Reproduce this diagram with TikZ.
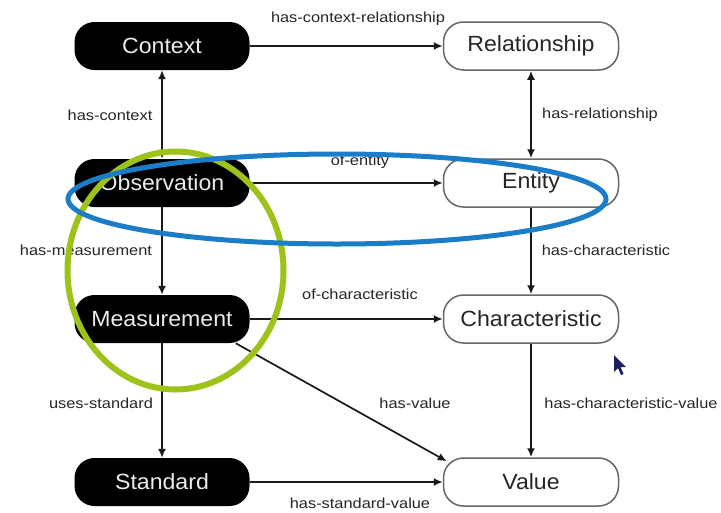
\documentclass[tikz,border=0pt]{standalone}
\usepackage{fontspec}
\setmainfont{Liberation Sans}
\newfontfamily\boxfont{Liberation Sans}[FakeStretch=1.05]
\newfontfamily\lblfont{Liberation Sans}[FakeStretch=1.13]
\usetikzlibrary{arrows.meta,shapes.geometric}
\definecolor{ringgreen}{HTML}{9DC31B}
\definecolor{ringblue}{HTML}{1B7CC8}
\definecolor{cursorblue}{HTML}{1C1F5E}
\begin{document}
\begin{tikzpicture}[x=1pt,y=-1pt,
  base/.style={minimum width=175pt,minimum height=48pt,rounded corners=20pt,inner sep=0pt,
    font=\boxfont\fontsize{22}{24}\selectfont},
  darkbox/.style={base,fill=black,text=white!92!black},
  lightbox/.style={base,fill=white,draw=black!60,line width=1.5pt,text=black!85},
  conn/.style={line width=1.7pt,black!90,-{Latex[length=9pt,width=8pt]}},
  biconn/.style={line width=1.7pt,black!90,{Latex[length=9pt,width=8pt]}-{Latex[length=9pt,width=8pt]}},
  lbl/.style={font=\lblfont\fontsize{14.5}{16}\selectfont,text=black!85,inner sep=0pt}]
\useasboundingbox (0,0) rectangle (721,512);
\fill[white] (0,0) rectangle (721,512);

\node[darkbox] (Context) at (162,46) {Context};
\node[lightbox] (Relationship) at (531,46) {Relationship};
\node[darkbox] (Observation) at (162,183) {Observation};
\node[lightbox] (Entity) at (531,183) {Entity};
\node[darkbox] (Measurement) at (162,319) {Measurement};
\node[lightbox] (Characteristic) at (531,319) {Characteristic};
\node[darkbox] (Standard) at (162,482) {Standard};
\node[lightbox] (Value) at (531,482) {Value};

\draw[conn] (Context) -- (Relationship);
\draw[biconn] (Context) -- (Observation);
\draw[biconn] (Relationship) -- (Entity);
\draw[conn] (Observation) -- (Entity);
\draw[conn] (Observation) -- (Measurement);
\draw[conn] (Entity) -- (Characteristic);
\draw[conn] (Measurement) -- (Characteristic);
\draw[conn] (Measurement) -- (Standard);
\draw[conn] (Characteristic) -- (Value);
\draw[conn] (Standard) -- (Value);
\coordinate (mvstart) at ([xshift=-14pt]Measurement.south east);
\coordinate (mvend) at ([xshift=4pt,yshift=-4pt]Value.north west);
\draw[conn] (mvstart) -- (mvend);

\node[lbl] (l1) at (358,19) {has-context-relationship};
\node[lbl] (l2) at (110,115) {has-context};
\node[lbl] (l3) at (600,115) {has-relationship};
\node[lbl] (l4) at (360,162) {of-entity};
\node[lbl] (l5) at (86,250) {has-measurement};
\node[lbl] (l6) at (606,250) {has-characteristic};
\node[lbl] (l7) at (360,294) {of-characteristic};
\node[lbl] (l8) at (101,403) {uses-standard};
\node[lbl] (l9) at (415,403) {has-value};
\node[lbl] (l10) at (631,403) {has-characteristic-value};
\node[lbl] (l11) at (360,503) {has-standard-value};

\draw[ringgreen,line width=6pt] (175.5,270.5) ellipse [x radius=108,y radius=119];
\draw[ringblue,line width=5pt] (337,199) ellipse [x radius=269,y radius=45];

\fill[cursorblue] (614,355) -- (614,372) -- (618,368) -- (621,375) -- (623.5,374) -- (620.5,367) -- (626,367) -- cycle;
\end{tikzpicture}
\end{document}
